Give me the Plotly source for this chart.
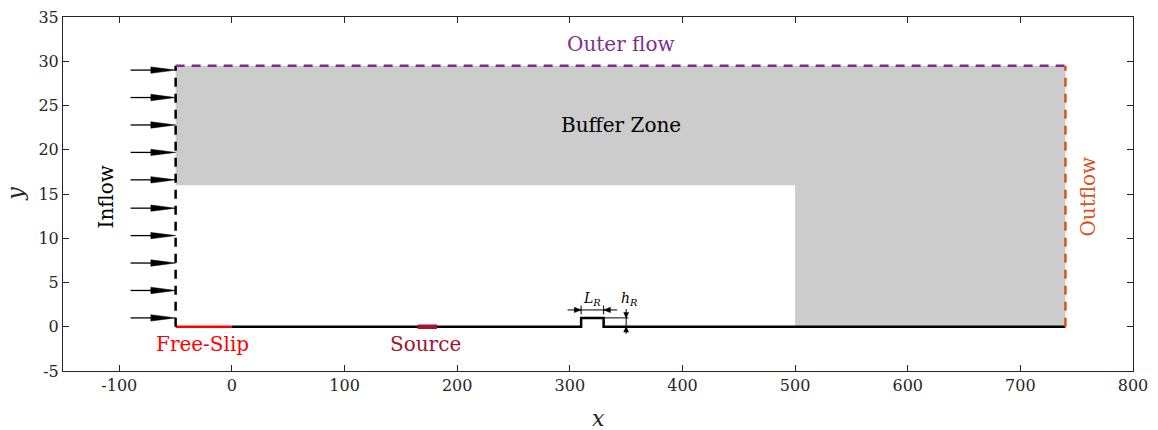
import plotly.graph_objects as go

# Domain geometry
x_inflow = -50
x_outflow = 740
y_top = 29.5
x_buffer_start = 500
y_buffer_low = 16
x_slip_end = 0
source_x = [165, 182]
roughness_x = [310, 330]
roughness_h = 1

# Inflow arrows
arrow_y = [1, 4.1, 7.2, 10.3, 13.4, 16.6, 19.7, 22.8, 25.9, 29.0]
arrow_x_start = -90
head_len = 22
head_half = 0.36

# Axis ticks
x_ticks = [-100, 0, 100, 200, 300, 400, 500, 600, 700, 800]
x_tick_labels = ["-100", "0", "100", "200", "300", "400", "500", "600", "700", "800"]
y_ticks = [-5, 0, 5, 10, 15, 20, 25, 30, 35]
y_tick_labels = ["-5", "0", "5", "10", "15", "20", "25", "30", "35"]

FONT = "DejaVu Serif, serif"
PURPLE = "#7E2F8E"
ORANGE = "#D95319"
RED = "#FF0000"
SOURCE = "#A2142F"
GRAY = "#CCCCCC"
AXIS = "#262626"

fig = go.Figure()

# Buffer zone
fig.add_trace(go.Scatter(
    x=[x_inflow, x_buffer_start, x_buffer_start, x_outflow, x_outflow, x_inflow, x_inflow],
    y=[y_buffer_low, y_buffer_low, 0, 0, y_top, y_top, y_buffer_low],
    fill="toself", fillcolor=GRAY, line=dict(width=0), mode="lines",
    hoverinfo="skip"))

# Wall with roughness element
r0, r1 = roughness_x
fig.add_trace(go.Scatter(
    x=[x_slip_end, r0, r0, r1, r1, x_outflow],
    y=[0, 0, roughness_h, roughness_h, 0, 0],
    mode="lines", line=dict(color="black", width=2.5)))

# Free-slip segment
fig.add_trace(go.Scatter(x=[x_inflow, x_slip_end], y=[0, 0], mode="lines",
                         line=dict(color=RED, width=2.5)))
# Source
fig.add_trace(go.Scatter(x=source_x, y=[0, 0], mode="lines",
                         line=dict(color=SOURCE, width=4.5)))

# Inflow boundary
fig.add_trace(go.Scatter(x=[x_inflow, x_inflow], y=[0, y_top], mode="lines",
                         line=dict(color="black", width=2.5, dash="9px,7px")))
# Outer flow boundary
fig.add_trace(go.Scatter(x=[x_inflow, x_outflow], y=[y_top, y_top], mode="lines",
                         line=dict(color=PURPLE, width=2.5, dash="9px,7px")))
# Outflow boundary
fig.add_trace(go.Scatter(x=[x_outflow, x_outflow], y=[0, y_top], mode="lines",
                         line=dict(color=ORANGE, width=2.5, dash="9px,7px")))

# Inflow arrows: shafts and heads
sx, sy, hx, hy = [], [], [], []
for yv in arrow_y:
    sx += [arrow_x_start, x_inflow - head_len + 2, None]
    sy += [yv, yv, None]
    hx += [x_inflow - head_len, x_inflow, x_inflow - head_len, x_inflow - head_len, None]
    hy += [yv - head_half, yv, yv + head_half, yv - head_half, None]
fig.add_trace(go.Scatter(x=sx, y=sy, mode="lines", line=dict(color="black", width=1.3)))
fig.add_trace(go.Scatter(x=hx, y=hy, mode="lines", fill="toself", fillcolor="black",
                         line=dict(color="black", width=0.5)))

# Roughness dimensions
dim_y = 1.9
h_x = 350
fig.add_trace(go.Scatter(
    x=[r0 - 12, r1 + 12, None, r0, r0, None, r1, r1, None, r1, h_x + 2, None, h_x, h_x],
    y=[dim_y, dim_y, None, dim_y - 0.5, dim_y + 0.5, None, dim_y - 0.5, dim_y + 0.5, None,
       roughness_h, roughness_h, None, -0.8, 2.0],
    mode="lines", line=dict(color="black", width=1)))

# Small dimension arrowheads (tip, direction)
small_len_x, small_half_y = 6, 0.3
small_len_y, small_half_x = 0.6, 2.2
dx, dy = [], []
for tip, direction in [(r0, 1), (r1, -1)]:
    base = tip - direction * small_len_x
    dx += [base, tip, base, base, None]
    dy += [dim_y - small_half_y, dim_y, dim_y + small_half_y, dim_y - small_half_y, None]
for tip, direction in [(roughness_h, -1), (0, 1)]:
    base = tip - direction * small_len_y
    dx += [h_x - small_half_x, h_x, h_x + small_half_x, h_x - small_half_x, None]
    dy += [base, tip, base, base, None]
fig.add_trace(go.Scatter(x=dx, y=dy, mode="lines", fill="toself", fillcolor="black",
                         line=dict(color="black", width=0.5)))

annotations = []

def label(x, y, text, color="black", size=20, angle=0):
    annotations.append(dict(x=x, y=y, xref="x", yref="y", text=text, showarrow=False,
                            textangle=angle, font=dict(family=FONT, size=size, color=color)))

label(345, 31.9, "Outer flow", PURPLE)
label(345, 22.8, "Buffer Zone", "black")
label(-112, 14.7, "Inflow", "black", angle=-90)
label(760, 14.7, "Outflow", ORANGE, angle=-90)
label(-26, -1.9, "Free-Slip", RED)
label(172, -1.9, "Source", SOURCE)
label(320, 3.1, "<i>L</i><sub><i>R</i></sub>", "black", size=14)
label(353, 3.1, "<i>h</i><sub><i>R</i></sub>", "black", size=14)

# Axis titles
annotations.append(dict(x=0.5, y=-0.133, xref="paper", yref="paper", text="<i>x</i>",
                        xanchor="center", yanchor="middle", showarrow=False,
                        font=dict(family=FONT, size=22, color=AXIS)))
annotations.append(dict(x=-0.045, y=0.5, xref="paper", yref="paper", text="<i>y</i>",
                        xanchor="center", yanchor="middle", showarrow=False, textangle=-90,
                        font=dict(family=FONT, size=22, color=AXIS)))

axis_common = dict(showgrid=False, zeroline=False, ticks="inside", ticklen=6,
                   tickcolor=AXIS, showline=True, linecolor=AXIS, linewidth=1,
                   mirror="allticks", automargin=False,
                   tickfont=dict(family=FONT, size=16, color=AXIS))

fig.update_layout(
    width=1158, height=430,
    margin=dict(l=63, r=25, t=17, b=59),
    plot_bgcolor="white", paper_bgcolor="white",
    showlegend=False,
    annotations=annotations,
    xaxis=dict(range=[-150, 800], tickvals=x_ticks, ticktext=x_tick_labels, **axis_common),
    yaxis=dict(range=[-5, 35], tickvals=y_ticks, ticktext=y_tick_labels, **axis_common),
)

fig.write_html("out.html")
